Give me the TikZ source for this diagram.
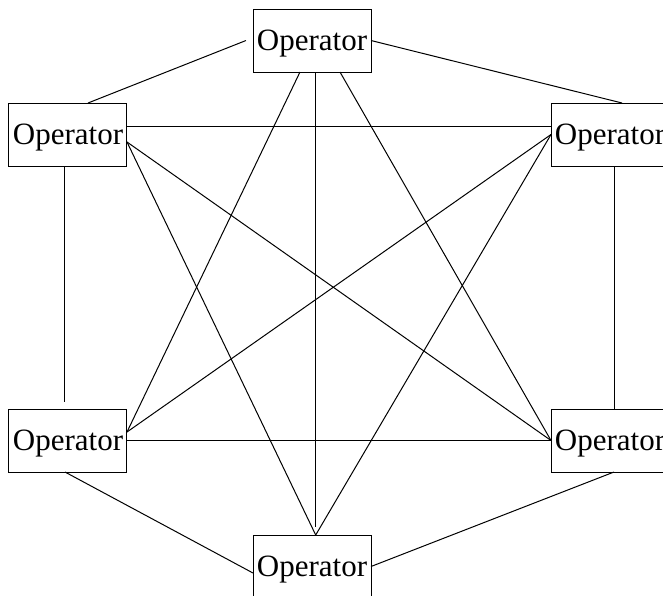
\documentclass[tikz,border=0pt]{standalone}
\usepackage{fontspec}
\setmainfont{Liberation Serif}
\usetikzlibrary{positioning}

\begin{document}
\begin{tikzpicture}[
    x=1pt, y=1pt,
    op/.style={rectangle, draw, line width=1pt, inner sep=2pt, outer sep=0pt, minimum width=118pt, minimum height=63pt, text depth=0pt, font=\fontsize{31}{36}\selectfont},
    wire/.style={draw, line width=1pt}
]
    \useasboundingbox (-312,40.5) rectangle (351,-554.5);
    \clip (-312,40.5) rectangle (351,-554.5);

    % the six operators
    \node (top) [op] at (0,0) {Operator};
    \node (upleft) [op, below left=31pt and 126pt of top] {Operator};
    \node (upright) [op, below right=31pt and 180pt of top] {Operator};
    \node (lowleft) [op, below=243pt of upleft] {Operator};
    \node (lowright) [op, below=243pt of upright] {Operator};
    \node (bottom) [op, below right=63pt and 126pt of lowleft] {Operator};

    % outer ring
    \draw [wire] ([xshift=-7pt]top.west) -- ([xshift=20pt]upleft.north);
    \draw [wire] (top.east) -- ([xshift=12pt]upright.north);
    \draw [wire] ([xshift=-3pt]upleft.south) -- ([xshift=-3pt, yshift=7pt]lowleft.north);
    \draw [wire] ([xshift=4pt]upright.south) -- ([xshift=4pt]lowright.north);
    \draw [wire] ([xshift=-3pt]lowleft.south) -- ([yshift=-6.5pt]bottom.west);
    \draw [wire] ([xshift=4pt]lowright.south) -- (bottom.east);

    % cross links
    \draw [wire] ([yshift=8.5pt]upleft.east) -- ([yshift=8.5pt]upright.west);
    \draw [wire] (lowleft.east) -- (lowright.west);
    \draw [wire] ([xshift=3.7pt]top.south) -- ([xshift=3.7pt, yshift=8pt]bottom.north);
    \draw [wire] ([xshift=-12pt]top.south) -- ([yshift=8.5pt]lowleft.east);
    \draw [wire] ([xshift=28pt]top.south) -- (lowright.west);
    \draw [wire] ([yshift=-7.5pt]upleft.east) -- (lowright.west);
    \draw [wire] ([yshift=-7.5pt]upleft.east) -- ([xshift=3.7pt]bottom.north);
    \draw [wire] (upright.west) -- ([yshift=8.5pt]lowleft.east);
    \draw [wire] (upright.west) -- ([xshift=3.7pt]bottom.north);
\end{tikzpicture}
\end{document}
